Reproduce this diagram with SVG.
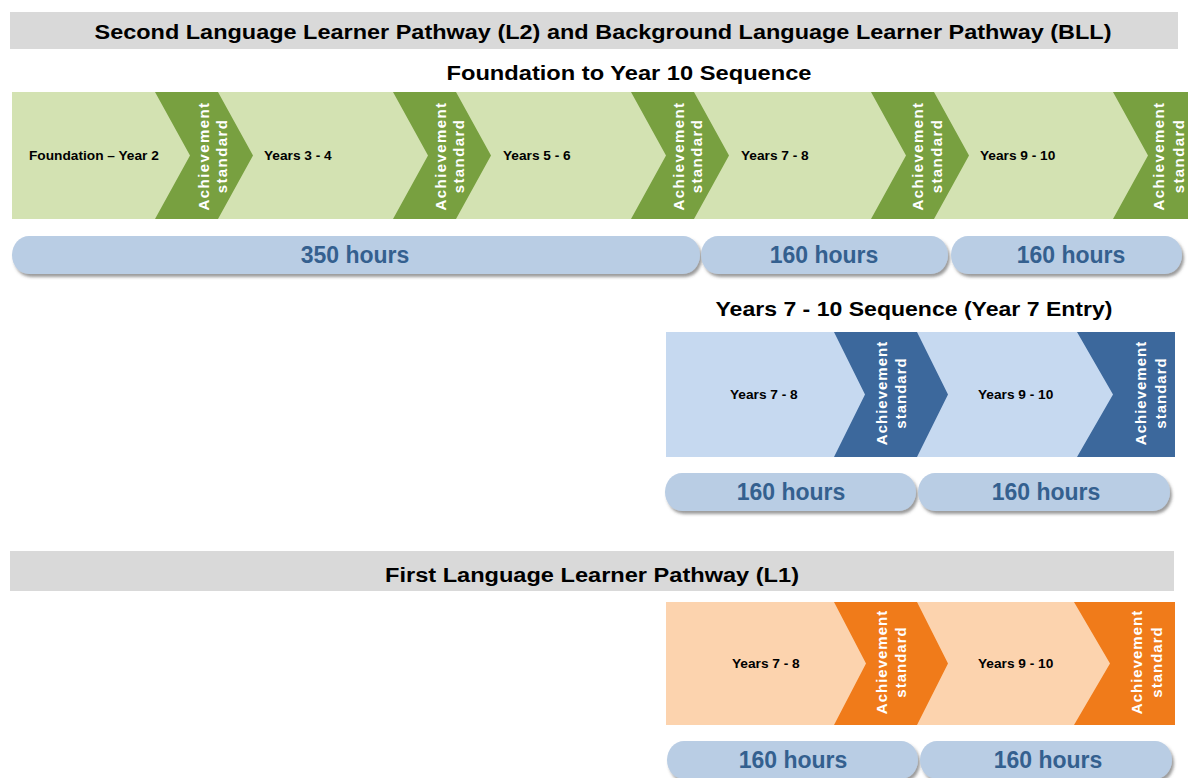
<svg xmlns="http://www.w3.org/2000/svg" width="1188" height="778" viewBox="0 0 1188 778">
<style>
.banner{fill:#d9d9d9}
.h{font-family:"Liberation Sans",Arial,sans-serif;font-weight:bold;fill:#000;text-anchor:middle}
.lbl{font-family:"Liberation Sans",Arial,sans-serif;font-weight:bold;font-size:13.7px;fill:#000}
.ach{font-family:"Liberation Sans",Arial,sans-serif;font-weight:bold;font-size:15px;fill:#fff;text-anchor:middle;letter-spacing:1.4px}
.pill{fill:#b9cde4;filter:url(#sh)}
.hrs{font-family:"Liberation Sans",Arial,sans-serif;font-weight:bold;font-size:23px;fill:#34608f;text-anchor:middle}
.gL{fill:#d3e2b2}.gD{fill:#78a040}
.bL{fill:#c6d9f0}.bD{fill:#3c689c}
.oL{fill:#fcd3ae}.oD{fill:#f07b1a}
</style>
<defs>
<filter id="sh" x="-5%" y="-20%" width="110%" height="150%">
<feDropShadow dx="2" dy="3" stdDeviation="1.6" flood-color="#4a4a4a" flood-opacity="0.55"/>
</filter>
</defs>
<rect width="1188" height="778" fill="#fff"/>

<g id="banner-l2">
<rect class="banner" x="10" y="12" width="1168" height="37"/>
<text class="h" x="603" y="39" font-size="20" textLength="1017" lengthAdjust="spacingAndGlyphs">Second Language Learner Pathway (L2) and Background Language Learner Pathway (BLL)</text>
</g>
<g id="heading-f10">
<text class="h" x="629" y="80" font-size="20" textLength="365" lengthAdjust="spacingAndGlyphs">Foundation to Year 10 Sequence</text>
</g>

<g id="green-sequence">
<rect class="gL" x="12" y="92" width="1176" height="127"/>
<polygon class="gD" points="155,92 218,92 253,155.5 218,219 155,219 190,155.5"/>
<polygon class="gD" points="393,92 456,92 491,155.5 456,219 393,219 428,155.5"/>
<polygon class="gD" points="631,92 694,92 729,155.5 694,219 631,219 666,155.5"/>
<polygon class="gD" points="871,92 934,92 969,155.5 934,219 871,219 906,155.5"/>
<polygon class="gD" points="1113,92 1188,92 1188,219 1113,219 1148,155.5"/>
<text class="lbl" x="29" y="160">Foundation – Year 2</text>
<text class="lbl" x="264" y="160">Years 3 - 4</text>
<text class="lbl" x="503" y="160">Years 5 - 6</text>
<text class="lbl" x="741" y="160">Years 7 - 8</text>
<text class="lbl" x="980" y="160">Years 9 - 10</text>
<text class="ach" transform="translate(209,156) rotate(-90)">Achievement</text>
<text class="ach" transform="translate(227,156) rotate(-90)">standard</text>
<text class="ach" transform="translate(446,156) rotate(-90)">Achievement</text>
<text class="ach" transform="translate(464,156) rotate(-90)">standard</text>
<text class="ach" transform="translate(684,156) rotate(-90)">Achievement</text>
<text class="ach" transform="translate(702,156) rotate(-90)">standard</text>
<text class="ach" transform="translate(923,156) rotate(-90)">Achievement</text>
<text class="ach" transform="translate(942,156) rotate(-90)">standard</text>
<text class="ach" transform="translate(1164,156) rotate(-90)">Achievement</text>
<text class="ach" transform="translate(1184,156) rotate(-90)">standard</text>
</g>

<g id="green-hours">
<rect class="pill" x="12" y="236" width="688" height="38" rx="17" ry="19"/>
<text class="hrs" x="355" y="263">350 hours</text>
<rect class="pill" x="701" y="236" width="247" height="38" rx="17" ry="19"/>
<text class="hrs" x="824" y="263">160 hours</text>
<rect class="pill" x="951" y="236" width="231" height="38" rx="17" ry="19"/>
<text class="hrs" x="1071" y="263">160 hours</text>
</g>

<g id="heading-y7">
<text class="h" x="914" y="316" font-size="21" textLength="397" lengthAdjust="spacingAndGlyphs">Years 7 - 10 Sequence (Year 7 Entry)</text>
</g>

<g id="blue-sequence">
<rect class="bL" x="666" y="332" width="509" height="125"/>
<polygon class="bD" points="834,332 917,332 948,394.5 917,457 834,457 865,394.5"/>
<polygon class="bD" points="1077,332 1175,332 1175,457 1077,457 1113,394.5"/>
<text class="lbl" x="730" y="399">Years 7 - 8</text>
<text class="lbl" x="978" y="399">Years 9 - 10</text>
<text class="ach" transform="translate(887,393) rotate(-90)" style="letter-spacing:1px">Achievement</text>
<text class="ach" transform="translate(906,393) rotate(-90)" style="letter-spacing:1px">standard</text>
<text class="ach" transform="translate(1146,393) rotate(-90)" style="letter-spacing:1px">Achievement</text>
<text class="ach" transform="translate(1166,393) rotate(-90)" style="letter-spacing:1px">standard</text>
</g>

<g id="blue-hours">
<rect class="pill" x="665" y="473" width="251" height="38" rx="17" ry="19"/>
<text class="hrs" x="791" y="500">160 hours</text>
<rect class="pill" x="918" y="473" width="252" height="38" rx="17" ry="19"/>
<text class="hrs" x="1046" y="500">160 hours</text>
</g>

<g id="banner-l1">
<rect class="banner" x="10" y="551" width="1164" height="40"/>
<text class="h" x="592" y="582" font-size="20" textLength="414" lengthAdjust="spacingAndGlyphs">First Language Learner Pathway (L1)</text>
</g>

<g id="orange-sequence">
<rect class="oL" x="666" y="602" width="509" height="123"/>
<polygon class="oD" points="834,602 917,602 948,663.5 917,725 834,725 866,663.5"/>
<polygon class="oD" points="1074,602 1175,602 1175,725 1074,725 1110,663.5"/>
<text class="lbl" x="732" y="668">Years 7 - 8</text>
<text class="lbl" x="978" y="668">Years 9 - 10</text>
<text class="ach" transform="translate(887,662) rotate(-90)" style="letter-spacing:1px">Achievement</text>
<text class="ach" transform="translate(906,662) rotate(-90)" style="letter-spacing:1px">standard</text>
<text class="ach" transform="translate(1142,662) rotate(-90)" style="letter-spacing:1px">Achievement</text>
<text class="ach" transform="translate(1162,662) rotate(-90)" style="letter-spacing:1px">standard</text>
</g>

<g id="orange-hours">
<rect class="pill" x="667" y="741" width="251" height="38" rx="17" ry="19"/>
<text class="hrs" x="793" y="768">160 hours</text>
<rect class="pill" x="920" y="741" width="252" height="38" rx="17" ry="19"/>
<text class="hrs" x="1048" y="768">160 hours</text>
</g>

<g id="connectors"></g>
</svg>
